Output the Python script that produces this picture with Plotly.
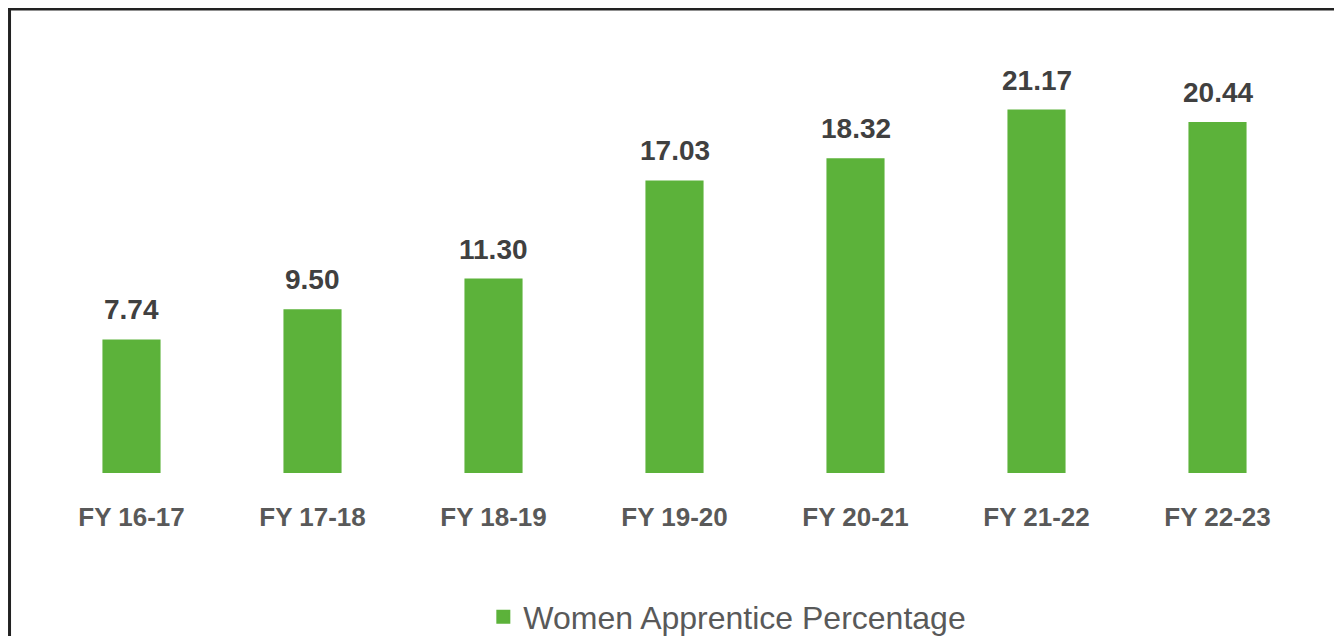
import plotly.graph_objects as go

# Women apprentice share by financial year
years = ["FY 16-17", "FY 17-18", "FY 18-19", "FY 19-20", "FY 20-21", "FY 21-22", "FY 22-23"]
women_pct = [7.74, 9.50, 11.30, 17.03, 18.32, 21.17, 20.44]
labels = ["7.74", "9.50", "11.30", "17.03", "18.32", "21.17", "20.44"]

GREEN = "#5cb23a"
FONT = "Liberation Sans, Arial, sans-serif"

fig = go.Figure(go.Bar(
    x=years,
    y=women_pct,
    name="Women Apprentice Percentage",
    marker=dict(color=GREEN, line=dict(color=GREEN, width=2)),
))

# value labels above each bar
for yr, val, lab in zip(years, women_pct, labels):
    fig.add_annotation(
        x=yr, y=val, text="<b>%s</b>" % lab, showarrow=False,
        yanchor="bottom", yshift=13,
        font=dict(family=FONT, size=28, color="#404040"),
    )

fig.update_layout(
    width=1342, height=636,
    margin=dict(l=32.5, r=41.5, t=37, b=171, autoexpand=False),
    paper_bgcolor="white", plot_bgcolor="white",
    bargap=0.69,
    showlegend=True,
    legend=dict(
        orientation="h", x=0.5417, xanchor="center",
        yref="container", y=0.0425, yanchor="middle",
        font=dict(family=FONT, size=32, color="#595959"),
    ),
    xaxis=dict(
        showline=False, showgrid=False, ticks="", automargin=False,
        ticklabelstandoff=26,
        tickfont=dict(family=FONT, size=26, color="#595959"),
        tickvals=years, ticktext=["<b>%s</b>" % y for y in years],
    ),
    yaxis=dict(range=[0, 25], visible=False, automargin=False),
    # outer frame of the original chart (bottom edge runs off the picture)
    shapes=[dict(
        type="rect", xref="paper", yref="paper",
        x0=-0.02484, x1=1.02484, y0=-0.45, y1=1.0841,
        line=dict(color="#222222", width=3),
    )],
)

fig.write_html("out.html")
